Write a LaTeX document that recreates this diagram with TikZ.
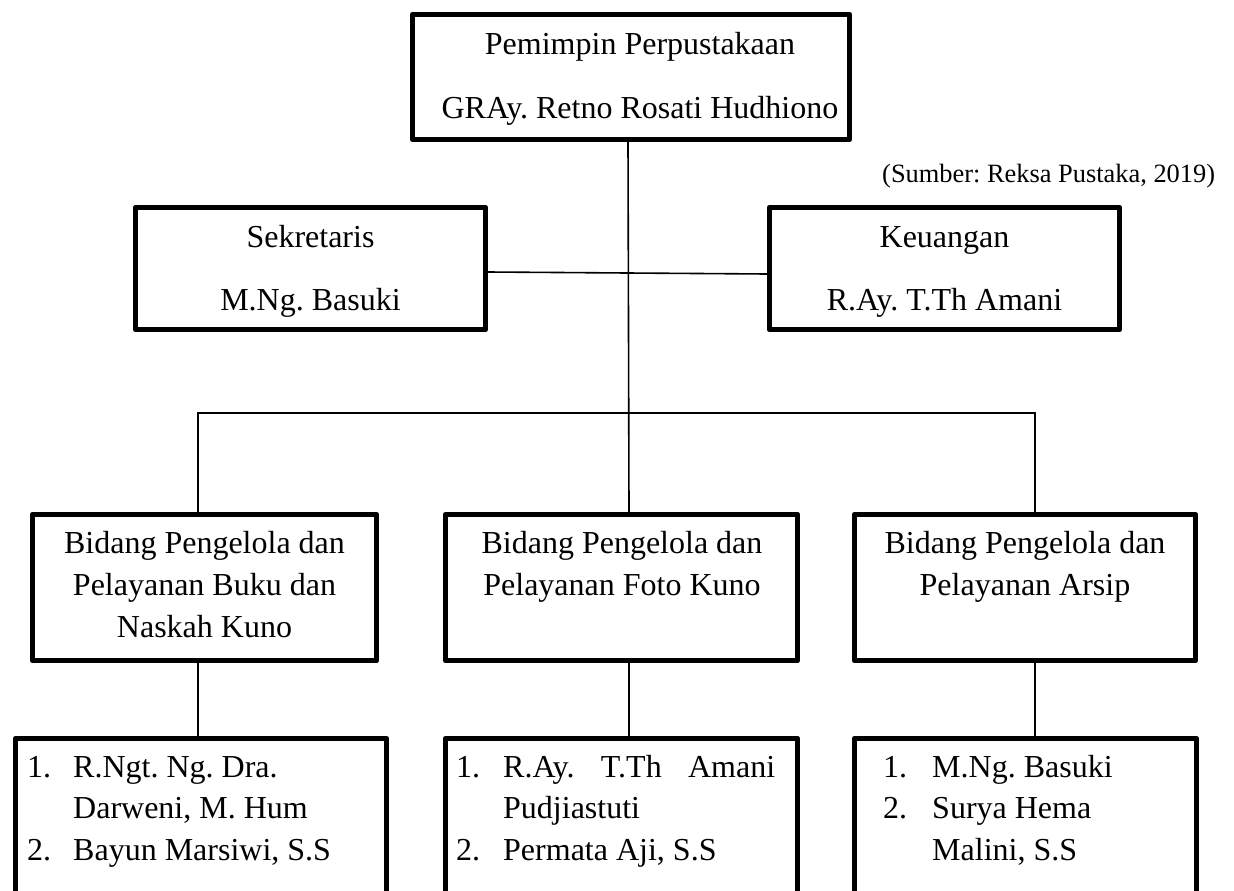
\documentclass[tikz,border=0pt]{standalone}
\usepackage{fontspec}
\setmainfont{Liberation Serif}
\frenchspacing
\begin{document}
\begin{tikzpicture}[x=1pt,y=-1pt,
  box/.style={draw=black,line width=5.5pt,line join=round,rectangle,inner sep=0pt},
  conn/.style={draw=black,line width=1.6pt},
  txt/.style={inner sep=0pt,font=\fontsize{32}{38}\selectfont\frenchspacing},
  ctxt/.style={txt,anchor=base},
  ltxt/.style={txt,anchor=base west},
  captxt/.style={inner sep=0pt,anchor=base west,font=\fontsize{26.4}{30}\selectfont\frenchspacing}]
\useasboundingbox (0,0) rectangle (1234,891);
\fill[white] (0,0) rectangle (1234,891);

% boxes
\node[box,minimum width=437pt,minimum height=125pt] (top) at (631,77) {};
\node[box,minimum width=350pt,minimum height=122pt] (sek) at (310.5,268.5) {};
\node[box,minimum width=350pt,minimum height=122pt] (keu) at (944.5,268.5) {};
\node[box,minimum width=344pt,minimum height=146pt] (midA) at (204.5,587.5) {};
\node[box,minimum width=352pt,minimum height=146pt] (midB) at (621.5,587.5) {};
\node[box,minimum width=341pt,minimum height=146pt] (midC) at (1025,587.5) {};
\begin{scope}
\clip (0,0) rectangle (1234,891);
\node[box,minimum width=371pt,minimum height=170pt] (botA) at (201,823.5) {};
\node[box,minimum width=352pt,minimum height=170pt] (botB) at (621.5,823.5) {};
\node[box,minimum width=342pt,minimum height=170pt] (botC) at (1025.5,823.5) {};
\end{scope}

% connector points
\coordinate (vt) at (628,142);
\coordinate (vb) at (629,512);
\coordinate (sk) at (488,272);
\coordinate (ku) at (767,274);
\coordinate (barL) at (198,413);
\coordinate (barR) at (1035,413);
\coordinate (aT) at (198,512);
\coordinate (cT) at (1035,512);
\coordinate (aB1) at (198,663);
\coordinate (aB2) at (198,736);
\coordinate (bB1) at (629,663);
\coordinate (bB2) at (629,736);
\coordinate (cB1) at (1035,663);
\coordinate (cB2) at (1035,736);

\draw[conn] (vt) -- (vb);
\draw[conn] (sk) -- (ku);
\draw[conn] (aT) -- (barL) -- (barR) -- (cT);
\draw[conn] (aB1) -- (aB2);
\draw[conn] (bB1) -- (bB2);
\draw[conn] (cB1) -- (cB2);

% texts
\node[ctxt] (t1) at (640,55) {Pemimpin Perpustakaan};
\node[ctxt] (t2) at (640,118) {GRAy. Retno Rosati Hudhiono};
\node[captxt] (cap) at (882,182) {(Sumber: Reksa Pustaka, 2019)};
\node[ctxt] (s1) at (310.5,247) {Sekretaris};
\node[ctxt] (s2) at (310.5,310) {M.Ng. Basuki};
\node[ctxt] (k1) at (944.5,247) {Keuangan};
\node[ctxt] (k2) at (944.5,310) {R.Ay. T.Th Amani};

\node[ctxt] (ma1) at (204.5,553) {Bidang Pengelola dan};
\node[ctxt] (ma2) at (204.5,595) {Pelayanan Buku dan};
\node[ctxt] (ma3) at (204.5,637) {Naskah Kuno};
\node[ctxt] (mb1) at (622,553) {Bidang Pengelola dan};
\node[ctxt] (mb2) at (622,595) {Pelayanan Foto Kuno};
\node[ctxt] (mc1) at (1025,553) {Bidang Pengelola dan};
\node[ctxt] (mc2) at (1025,595) {Pelayanan Arsip};

\node[ltxt] (ba1n) at (27,777) {1.};
\node[ltxt] (ba1) at (73,777) {R.Ngt. Ng. Dra.};
\node[ltxt] (ba2) at (73,818) {Darweni, M. Hum};
\node[ltxt] (ba3n) at (27,860) {2.};
\node[ltxt] (ba3) at (73,860) {Bayun Marsiwi, S.S};

\node[ltxt] (bb1n) at (456,777) {1.};
\node[ltxt] (bb1) at (503,777) {\makebox[272pt][s]{R.Ay. T.Th Amani}};
\node[ltxt] (bb2) at (503,818) {Pudjiastuti};
\node[ltxt] (bb3n) at (456,860) {2.};
\node[ltxt] (bb3) at (503,860) {Permata Aji, S.S};

\node[ltxt] (bc1n) at (883,777) {1.};
\node[ltxt] (bc1) at (932,777) {M.Ng. Basuki};
\node[ltxt] (bc2n) at (883,818) {2.};
\node[ltxt] (bc2) at (932,818) {Surya Hema};
\node[ltxt] (bc3) at (932,860) {Malini, S.S};
\end{tikzpicture}
\end{document}
